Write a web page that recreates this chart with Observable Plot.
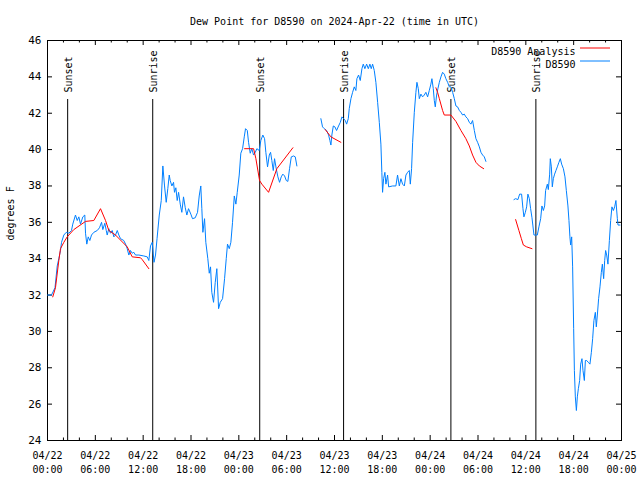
<!DOCTYPE html>
<html>
<head>
<meta charset="utf-8">
<script src="https://cdn.jsdelivr.net/npm/d3@7"></script>
<script src="https://cdn.jsdelivr.net/npm/@observablehq/plot@0.6"></script>
<style>
  html, body { margin: 0; padding: 0; background: #fff; }
  #chart svg { display: block; }
</style>
</head>
<body>
<div id="chart"></div>
<script>
// ---- data (hours since 2024-04-22 00:00 UTC, degrees F) ----
const titleText = "Dew Point for D8590 on 2024-Apr-22 (time in UTC)";
const yLabel = "degrees F";
const seriesNames = ["D8590 Analysis", "D8590"];

// observed station dew point, three segments separated by data gaps
const obs1 = [[0,32.0],[0.5,32.0],[0.94,32.4],[1.22,33.6],[1.42,34.0],[1.63,34.45],[1.76,34.9],[2.05,35.3],[2.35,35.45],[2.67,35.4],[3.01,35.55],[3.17,35.9],[3.51,36.4],[3.73,36.1],[3.93,36.3],[4.14,35.9],[4.43,36.3],[4.68,36.4],[4.77,35.4],[4.93,34.8],[5.11,35.2],[5.31,35.0],[5.52,35.3],[5.81,35.45],[6.24,35.55],[6.52,35.7],[6.78,36.0],[6.94,35.6],[7.19,35.95],[7.37,35.55],[7.49,35.3],[7.69,35.65],[7.90,35.4],[8.12,35.55],[8.32,35.2],[8.53,35.3],[8.75,35.55],[8.95,35.3],[9.16,35.1],[9.57,35.0],[9.79,34.8],[10.0,34.55],[10.2,34.2],[10.41,34.45],[10.63,34.3],[10.83,34.35],[11.04,34.2],[11.46,34.2],[12.08,34.15],[12.51,34.1],[12.71,33.9],[12.92,34.7],[13.14,34.9],[13.36,33.8],[13.55,34.2],[13.74,35.1],[14.02,36.4],[14.27,37.2],[14.47,39.1],[14.68,38.0],[14.89,37.1],[15.09,37.85],[15.27,38.6],[15.39,38.3],[15.6,38.0],[15.81,38.2],[15.93,37.65],[16.1,37.9],[16.27,37.2],[16.44,37.65],[16.65,37.0],[16.85,36.55],[17.06,37.4],[17.28,36.8],[17.48,36.4],[17.69,36.75],[17.98,36.45],[18.19,36.2],[18.53,36.25],[18.82,36.55],[19.03,37.45],[19.23,38.0],[19.36,36.75],[19.49,35.45],[19.7,36.2],[19.86,34.9],[20.11,34.0],[20.29,33.2],[20.45,33.55],[20.61,32.15],[20.83,31.6],[21.04,32.7],[21.24,33.45],[21.46,31.25],[21.67,31.6],[21.96,31.8],[22.21,32.9],[22.42,34.0],[22.58,34.8],[22.8,34.55],[23.0,34.9],[23.21,36.0],[23.43,37.45],[23.63,37.0],[23.8,37.65],[24.05,38.6],[24.25,39.8],[24.47,40.05],[24.68,40.7],[24.84,41.15],[25.06,41.05],[25.22,40.4],[25.43,39.8],[25.63,40.05],[25.85,39.7],[26.06,39.85],[26.26,40.05],[26.56,39.95],[26.76,40.5],[27.01,40.8],[27.23,40.6],[27.39,39.85],[27.6,39.05],[27.82,39.7],[27.98,39.85],[28.14,39.4],[28.32,38.85],[28.48,39.5],[28.69,38.95],[28.9,38.5],[29.11,38.2],[29.32,38.5],[29.52,38.65],[29.74,38.55],[29.95,38.3],[30.15,38.25],[30.36,38.95],[30.58,39.6],[30.87,39.65],[31.08,39.6],[31.28,39.1]];
const obs2 = [[34.29,41.7],[34.5,41.25],[34.72,41.15],[35.01,41.05],[35.26,40.8],[35.42,40.5],[35.55,40.25],[35.67,40.8],[35.85,41.3],[36.05,41.25],[36.26,41.05],[36.51,41.3],[36.73,41.5],[36.93,41.8],[37.14,41.7],[37.35,41.6],[37.52,41.4],[37.73,41.7],[37.85,42.25],[38.06,42.8],[38.27,43.15],[38.48,43.45],[38.68,43.25],[38.81,43.9],[39.02,44.1],[39.23,43.8],[39.44,44.45],[39.61,44.7],[39.81,44.45],[40.03,44.7],[40.24,44.45],[40.44,44.7],[40.61,44.45],[40.78,44.7],[40.99,44.35],[41.19,43.7],[41.41,42.6],[41.62,41.5],[41.82,40.3],[41.94,38.75],[42.03,37.65],[42.16,38.4],[42.32,38.75],[42.45,38.1],[42.66,38.6],[42.79,37.95],[43.29,38.0],[43.7,38.0],[43.91,38.6],[44.13,38.0],[44.33,38.4],[44.54,38.1],[44.76,38.0],[44.96,38.6],[45.17,38.75],[45.38,38.85],[45.51,38.1],[45.67,38.95],[45.8,40.4],[46.01,42.05],[46.21,43.15],[46.34,43.7],[46.51,43.35],[46.64,42.8],[46.84,43.05],[47.05,42.9],[47.26,43.0],[47.46,43.15],[47.68,42.9],[47.89,43.25],[48.09,43.6],[48.22,43.9],[48.39,43.35],[48.52,42.7],[48.64,42.35],[48.81,43.0],[48.97,43.35],[49.15,43.7],[49.35,44.0],[49.56,44.25],[49.77,44.15],[49.97,43.9],[50.19,43.7],[50.4,43.45],[50.6,43.45],[50.82,43.15],[51.03,42.8],[51.23,42.4],[51.44,42.35],[51.66,42.15],[51.86,42.05],[52.07,41.9],[52.28,41.95],[52.48,41.8],[52.7,41.7],[52.91,41.5],[53.11,41.4],[53.32,41.6],[53.54,41.05],[53.74,40.6],[53.95,40.4],[54.17,40.15],[54.37,39.85],[54.58,39.7],[54.79,39.6],[54.99,39.35]];
const obs3 = [[58.51,37.25],[58.72,37.3],[59.01,37.25],[59.22,37.55],[59.47,37.55],[59.64,36.75],[59.76,36.3],[59.94,36.55],[60.1,36.85],[60.26,37.55],[60.44,37.3],[60.6,36.75],[60.77,36.25],[60.89,35.8],[61.02,35.3],[61.44,35.3],[61.64,35.75],[61.86,36.2],[62.02,36.9],[62.2,36.65],[62.36,36.9],[62.48,37.75],[62.7,38.1],[62.82,37.8],[62.99,38.65],[63.07,39.5],[63.2,39.05],[63.32,37.95],[63.45,38.4],[63.61,38.65],[63.78,38.85],[63.95,39.05],[64.15,39.3],[64.33,39.5],[64.49,39.2],[64.71,38.95],[64.91,38.5],[65.08,37.75],[65.28,36.9],[65.41,36.1],[65.53,35.2],[65.62,34.75],[65.75,35.2],[65.87,33.55],[66.0,30.15],[66.09,27.85],[66.21,26.4],[66.34,25.65],[66.46,26.4],[66.59,26.85],[66.75,27.3],[66.88,28.2],[67.04,28.5],[67.17,27.85],[67.34,27.3],[67.47,28.4],[67.63,28.4],[67.84,28.3],[68.04,28.2],[68.22,28.85],[68.38,29.6],[68.54,30.6],[68.72,31.05],[68.84,30.25],[68.97,30.9],[69.13,31.8],[69.3,32.45],[69.47,33.25],[69.6,33.7],[69.76,32.9],[69.89,33.9],[70.01,34.45],[70.14,34.2],[70.3,33.7],[70.48,35.0],[70.64,36.1],[70.8,36.85],[70.98,36.65],[71.14,36.85],[71.3,37.2],[71.48,36.2],[71.56,35.85],[71.81,35.85]];

// analysis dew point, five segments
const ana1 = [[0.66,31.9],[1.0,32.4],[1.42,33.9],[1.63,34.55],[2.05,34.9],[2.47,35.2],[3.3,35.6],[4.77,36.05],[5.81,36.1],[6.65,36.75],[7.28,36.1],[7.69,35.55],[8.53,35.3],[10.0,34.65],[10.63,34.1],[11.67,34.05],[11.88,33.95],[12.71,33.45]];
const ana2 = [[24.72,40.05],[25.85,40.05],[26.14,39.5],[26.6,38.3],[26.89,38.1],[27.73,37.65],[28.77,38.95],[30.78,40.1]];
const ana3 = [[34.84,41.1],[35.55,40.7],[36.8,40.4]];
const ana4 = [[48.72,43.4],[48.93,43.15],[49.15,42.8],[49.56,42.15],[49.77,41.9],[50.6,41.9],[51.23,41.55],[51.86,41.05],[52.48,40.6],[52.91,40.2],[53.32,39.7],[53.74,39.3],[54.17,39.1],[54.71,38.95]];
const ana5 = [[58.72,36.15],[59.13,35.55],[59.44,35.1],[59.69,34.75],[60.1,34.65],[60.77,34.55]];

// sunrise / sunset events (hours since start)
const sunEvents = [["Sunset",2.53],["Sunrise",13.2],["Sunset",26.62],["Sunrise",37.14],["Sunset",50.6],["Sunrise",61.26]];

const yTicks = [24,26,28,30,32,34,36,38,40,42,44,46];
const xStartMs = Date.UTC(2024, 3, 22, 0, 0);
const xEndMs = Date.UTC(2024, 3, 25, 0, 0);

// ---- build ----
const t = h => new Date(xStartMs + h * 3600e3);
const toRows = arr => arr.map(([h, v]) => ({time: t(h), value: v}));
const obsSegs = [obs1, obs2, obs3].map(toRows);
const anaSegs = [ana1, ana2, ana3, ana4, ana5].map(toRows);
const sunRows = sunEvents.map(([name, h]) => ({name, time: t(h)}));

const majorX = d3.utcHour.every(6).range(new Date(xStartMs), new Date(xEndMs + 1));
const minorX = d3.utcHour.every(2).range(new Date(xStartMs), new Date(xEndMs + 1))
  .filter(d => d.getUTCHours() % 6 !== 0);

const BLUE = "#0080ff", RED = "#ff0000";
const W = 640, H = 480;
const mL = 47, mR = 19, mT = 40, mB = 40;
const fw = W - mL - mR, fh = H - mT - mB;
const fmt = d3.utcFormat("%m/%d\n%H:%M");

const marks = [
  Plot.frame({stroke: "black"}),
  // inward tick marks (gnuplot style) on all four sides
  Plot.ruleX(majorX, {x: d => d, insetTop: fh - 5, stroke: "black"}),
  Plot.ruleX(majorX, {x: d => d, insetBottom: fh - 5, stroke: "black"}),
  Plot.ruleX(minorX, {x: d => d, insetTop: fh - 2.5, stroke: "black"}),
  Plot.ruleX(minorX, {x: d => d, insetBottom: fh - 2.5, stroke: "black"}),
  Plot.ruleY(yTicks, {y: d => d, insetRight: fw - 5, stroke: "black"}),
  Plot.ruleY(yTicks, {y: d => d, insetLeft: fw - 5, stroke: "black"}),
  Plot.axisY(yTicks, {tickSize: 0, tickPadding: 6, label: null, fontSize: 11}),
  Plot.axisX(majorX, {tickSize: 0, tickPadding: 9, tickFormat: fmt, label: null, lineHeight: 1.4}),
  // sunrise / sunset lines and labels
  Plot.ruleX(sunRows, {x: "time", insetTop: 59, stroke: "black"}),
  Plot.text(sunRows, {x: "time", text: "name", frameAnchor: "top", dy: 52, rotate: -90,
    textAnchor: "start", lineAnchor: "middle", dx: 1, fill: "black"}),
];
obsSegs.forEach(seg => marks.push(Plot.line(seg, {x: "time", y: "value", stroke: BLUE, strokeWidth: 1})));
anaSegs.forEach(seg => marks.push(Plot.line(seg, {x: "time", y: "value", stroke: RED, strokeWidth: 1})));
// legend text
marks.push(Plot.text([seriesNames[0]], {text: d => d, frameAnchor: "top-right", dx: -46, dy: 7, textAnchor: "end", fill: "black"}));
marks.push(Plot.text([seriesNames[1]], {text: d => d, frameAnchor: "top-right", dx: -46, dy: 20, textAnchor: "end", fill: "black"}));
// title and y label
marks.push(Plot.text([titleText], {text: d => d, frameAnchor: "top", dy: -23, fill: "black"}));
marks.push(Plot.text([yLabel], {text: d => d, frameAnchor: "left", dx: -37, rotate: -90, fill: "black"}));

const chart = Plot.plot({
  width: W, height: H,
  marginLeft: mL, marginRight: mR, marginTop: mT, marginBottom: mB,
  style: {fontFamily: "'DejaVu Sans Mono', monospace", fontSize: "10px", background: "#fff", color: "black"},
  x: {type: "utc", domain: [new Date(xStartMs), new Date(xEndMs)], axis: null},
  y: {domain: [24, 46], axis: null},
  marks
});

// legend sample lines
const svg = d3.select(chart);
const lx1 = W - mR - 41, lx2 = W - mR - 11;
svg.append("line").attr("x1", lx1).attr("x2", lx2).attr("y1", mT + 8).attr("y2", mT + 8)
  .attr("stroke", RED).attr("stroke-width", 1);
svg.append("line").attr("x1", lx1).attr("x2", lx2).attr("y1", mT + 21).attr("y2", mT + 21)
  .attr("stroke", BLUE).attr("stroke-width", 1);

document.getElementById("chart").appendChild(chart);
</script>
</body>
</html>
